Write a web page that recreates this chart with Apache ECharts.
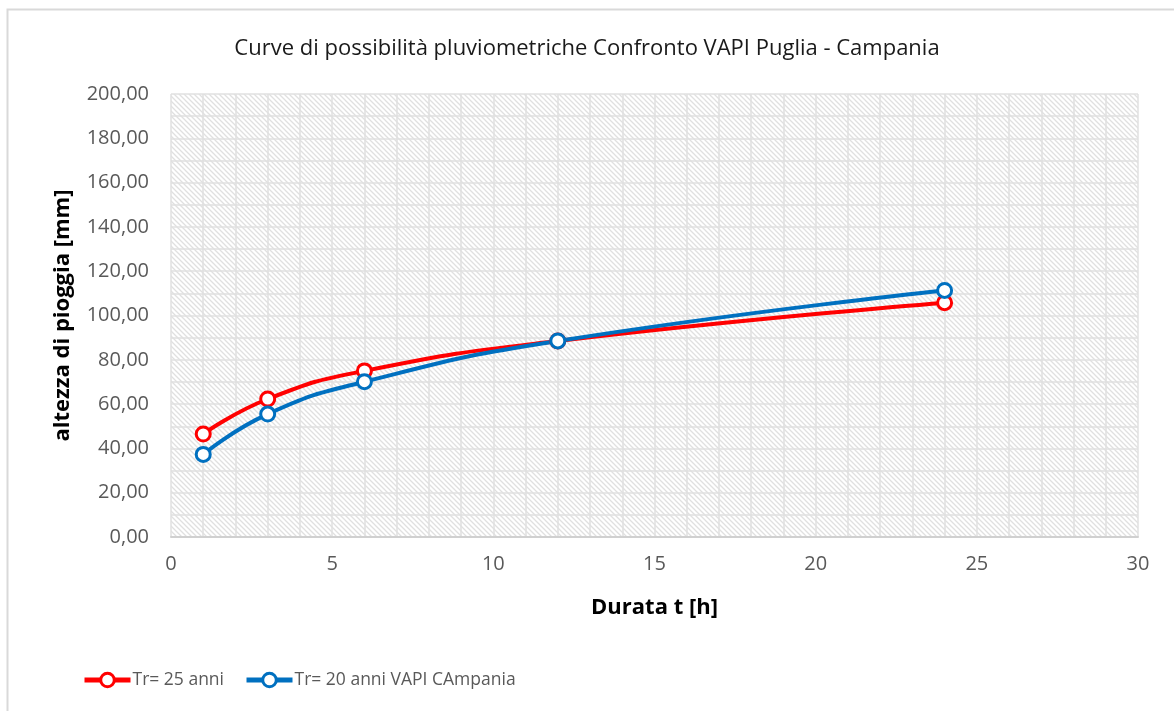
<!DOCTYPE html>
<html>
<head>
<meta charset="utf-8">
<title>Curve di possibilità pluviometriche</title>
<script src="https://cdn.jsdelivr.net/npm/echarts@6/dist/echarts.min.js"></script>
<style>
  html, body { margin: 0; padding: 0; background: #fff; }
  #main { width: 1174px; height: 711px; }
</style>
</head>
<body>
<div id="main"></div>
<script>
// durate [h]
var durate = [1, 3, 6, 12, 24];
// altezze di pioggia [mm]
var puglia25 = [46.5, 62.3, 75.0, 88.5, 105.8];
var campania20 = [37.3, 55.5, 70.1, 88.5, 111.3];
var nomi = ['Tr= 25 anni', 'Tr= 20 anni VAPI CAmpania'];

var chart = echarts.init(document.getElementById('main'));

// trama a righe diagonali per lo sfondo dell'area del grafico
var tile = document.createElement('canvas');
tile.width = 5;
tile.height = 5;
var ctx = tile.getContext('2d');
ctx.fillStyle = '#ffffff';
ctx.fillRect(0, 0, 5, 5);
ctx.strokeStyle = '#e0e0e0';
ctx.lineWidth = 1.3;
ctx.beginPath();
ctx.moveTo(-3, -3); ctx.lineTo(8, 8);
ctx.moveTo(-3, 2); ctx.lineTo(3, 8);
ctx.moveTo(2, -3); ctx.lineTo(8, 3);
ctx.stroke();

function coppie(ys) {
    var out = [];
    for (var i = 0; i < durate.length; i++) out.push([durate[i], ys[i]]);
    return out;
}

var fontTesto = '"Open Sans", "Noto Sans", sans-serif';

function serie(nome, ys, colore) {
    return {
        name: nome,
        type: 'line',
        smooth: 0.5,
        data: coppie(ys),
        symbol: 'circle',
        symbolSize: 14,
        lineStyle: { color: colore, width: 4 },
        itemStyle: { color: '#fff', borderColor: colore, borderWidth: 3 },
        emphasis: { disabled: true }
    };
}

var option = {
    animation: false,
    backgroundColor: '#fff',
    textStyle: { fontFamily: fontTesto },
    graphic: [{
        type: 'rect',
        shape: { x: 7.5, y: 9.5, width: 1180, height: 720 },
        style: { fill: 'none', stroke: '#d9d9d9', lineWidth: 2 },
        silent: true
    }],
    title: {
        text: 'Curve di possibilità pluviometriche Confronto VAPI Puglia - Campania',
        left: 'center',
        top: 33,
        textStyle: { fontFamily: fontTesto, fontSize: 22, fontWeight: 'normal', color: '#1a1a1a' }
    },
    legend: {
        bottom: 17,
        left: 77,
        itemWidth: 46,
        itemHeight: 17,
        itemGap: 20,
        data: nomi,
        lineStyle: { width: 5 },
        itemStyle: { borderWidth: 3 },
        textStyle: { fontFamily: fontTesto, fontSize: 17.5, color: '#595959', padding: [0, 0, 0, -3] }
    },
    grid: {
        left: 171,
        top: 94,
        width: 967,
        height: 443,
        show: true,
        borderWidth: 0,
        backgroundColor: { image: tile, repeat: 'repeat' }
    },
    xAxis: {
        type: 'value',
        min: 0,
        max: 30,
        interval: 5,
        name: 'Durata t [h]',
        nameLocation: 'middle',
        nameGap: 60,
        nameTextStyle: { fontFamily: fontTesto, fontSize: 22, fontWeight: 'bold', color: '#000' },
        axisLine: { show: true, lineStyle: { color: '#d0d0d0', width: 2 } },
        axisTick: { show: false },
        axisLabel: { fontSize: 20, color: '#595959', margin: 17 },
        splitLine: { show: true, lineStyle: { color: '#e0e0e0', width: 1.5 } },
        minorTick: { show: false, splitNumber: 5 },
        minorSplitLine: { show: true, lineStyle: { color: '#e0e0e0', width: 1.5 } }
    },
    yAxis: {
        type: 'value',
        min: 0,
        max: 200,
        interval: 20,
        name: 'altezza di pioggia [mm]',
        nameLocation: 'middle',
        nameGap: 97,
        nameTextStyle: { fontFamily: fontTesto, fontSize: 22, fontWeight: 'bold', color: '#000' },
        axisLine: { show: false },
        axisTick: { show: false },
        axisLabel: {
            fontSize: 20,
            color: '#595959',
            margin: 22,
            formatter: function (v) { return v.toFixed(2).replace('.', ','); }
        },
        splitLine: { show: true, lineStyle: { color: '#e0e0e0', width: 1.5 } },
        minorTick: { show: false, splitNumber: 2 },
        minorSplitLine: { show: true, lineStyle: { color: '#e0e0e0', width: 1.5 } }
    },
    series: [
        serie(nomi[0], puglia25, '#ff0000'),
        serie(nomi[1], campania20, '#0070c0')
    ]
};

chart.setOption(option);
</script>
</body>
</html>
